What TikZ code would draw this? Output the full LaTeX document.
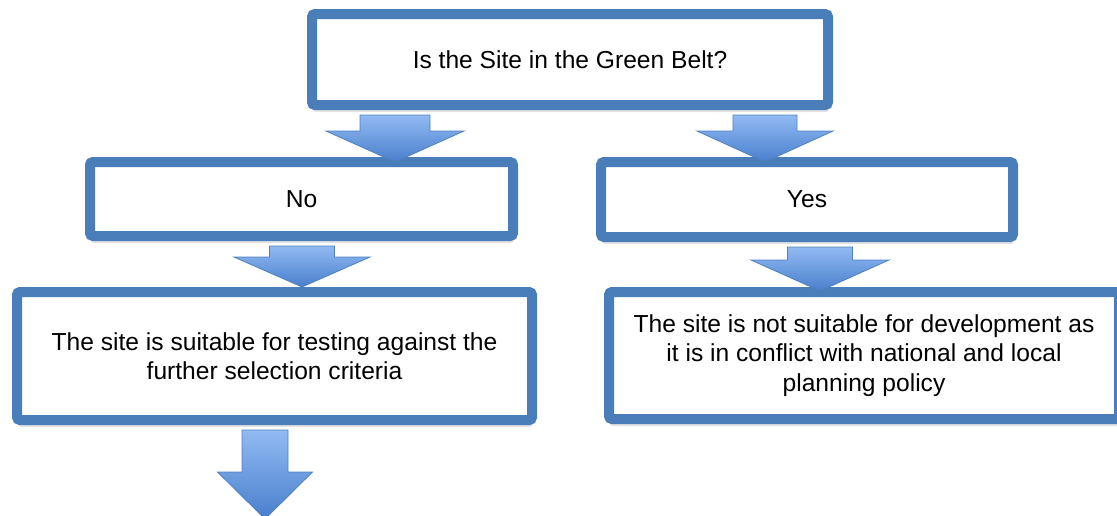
\documentclass[tikz,border=0pt]{standalone}
\usepackage{fontspec}
\setmainfont{Liberation Sans}
\usetikzlibrary{calc,shadows}

\definecolor{boxblue}{RGB}{74,126,187}
\definecolor{arrowtop}{RGB}{146,186,243}
\definecolor{arrowbot}{RGB}{72,127,204}
\definecolor{arrowline}{RGB}{79,129,189}

\tikzset{
  flowbox/.style={draw=boxblue, line width=5pt, fill=white, rounded corners=1.5pt,
    align=center, font=\fontsize{12.3}{14.6}\selectfont, inner sep=0pt,
    drop shadow={opacity=0.22, shadow xshift=0.5pt, shadow yshift=-3.5pt}},
  fatarrow/.style={top color=arrowtop, bottom color=arrowbot, draw=arrowline, line width=0.4pt, line join=miter}
}

% block arrow: start, tip, shaft half width, head half width, head length
\newcommand{\fatarrow}[5]{%
  \shadedraw[fatarrow] let \p1=#1, \p2=#2 in
    (\x1-#3,\y1) -- (\x1+#3,\y1) -- (\x1+#3,\y2+#5) -- (\x1+#4,\y2+#5)
    -- (\x1,\y2) -- (\x1-#4,\y2+#5) -- (\x1-#3,\y2+#5) -- cycle;}

\begin{document}
\begin{tikzpicture}[x=0.5pt, y=-0.5pt]
  \useasboundingbox (0,0) rectangle (1117,515);
  \clip (0,0) rectangle (1117,515);

  % boxes
  \node[flowbox, minimum width=258pt, minimum height=45.5pt] (q) at (570,59.5) {Is the Site in the Green Belt?};
  \node[flowbox, minimum width=211.5pt, minimum height=37pt] (no) at (301.5,199) {No};
  \node[flowbox, minimum width=206pt, minimum height=37.5pt] (yes) at (807,199.5) {Yes};
  \node[flowbox, minimum width=257.5pt, minimum height=64pt] (further) at (274.5,356)
    {The site is suitable for testing against the\\further selection criteria};
  \node[flowbox, minimum width=255pt, minimum height=63.5pt] (conflict) at (864,355.5)
    {The site is not suitable for development as\\it is in conflict with national and local\\planning policy};

  % arrows
  \coordinate (s1) at ($(q.south)+(-175,5)$);
  \coordinate (s2) at ($(q.south)+(195,5)$);
  \coordinate (s3) at ($(no.south)+(0.5,5)$);
  \coordinate (s4) at ($(yes.south)+(13,5)$);
  \coordinate (s5) at ($(further.south)+(-9.5,5)$);
  \coordinate (e5) at ($(s5)+(0,89)$);

  \fatarrow{(s1)}{($(no.north -| s1)+(0,5)$)}{17.5pt}{34.5pt}{15.5pt}
  \fatarrow{(s2)}{($(yes.north -| s2)+(0,5)$)}{16pt}{34pt}{15.5pt}
  \fatarrow{(s3)}{(further.north -| s3)}{16.25pt}{34pt}{15pt}
  \fatarrow{(s4)}{($(conflict.north -| s4)+(0,4)$)}{16.25pt}{34.5pt}{15.5pt}
  \fatarrow{(s5)}{(e5)}{11.5pt}{23.75pt}{23.5pt}
\end{tikzpicture}
\end{document}
